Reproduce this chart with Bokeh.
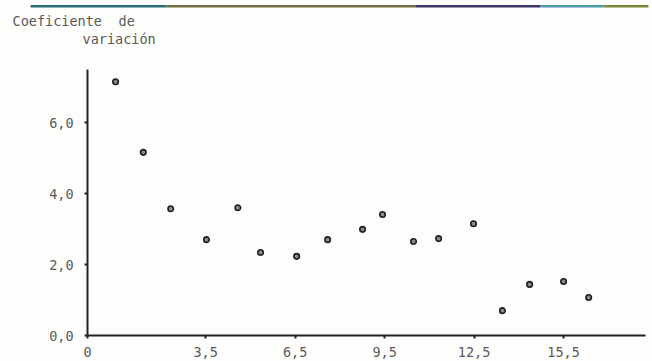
from bokeh.plotting import figure
from bokeh.models import Range1d, FixedTicker, Label, BoxAnnotation
from bokeh.embed import file_html
from bokeh.resources import INLINE

# ---- data ----
ages = [0.48, 1.41, 2.33, 3.53, 4.58, 5.34, 6.55, 7.59, 8.76, 9.43,
        10.47, 11.31, 12.48, 13.45, 14.36, 15.5, 16.34]
coef_var = [7.15, 5.16, 3.57, 2.70, 3.60, 2.34, 2.23, 2.70, 2.99, 3.41,
            2.65, 2.73, 3.15, 0.70, 1.44, 1.52, 1.07]

x_origin = -0.46
x_end = 18.25
y_top = 7.49
x_ticks = [3.5, 6.5, 9.5, 12.5, 15.5]
x_tick_labels = ["3,5", "6,5", "9,5", "12,5", "15,5"]
x_origin_label = "0"
y_ticks = [0, 2, 4, 6]
y_tick_labels = ["0,0", "2,0", "4,0", "6,0"]
title_line1 = ["Coeficiente", "de"]
title_line2 = "variación"

FONT = "DejaVu Sans Mono"
FS = "13.5px"
TXT = "#5a5a5a"
AX = "#222222"
W, H = 652, 361

p = figure(width=W, height=H, output_backend="svg", toolbar_location=None,
           title_location=None,
           x_range=Range1d(-3.377, 18.48), y_range=Range1d(-0.732, 9.437),
           min_border=0, min_border_left=0, min_border_right=0,
           min_border_top=0, min_border_bottom=0,
           background_fill_color="#fdfdfb", border_fill_color="#fdfdfb")
p.grid.visible = False
p.outline_line_color = None

p.scatter(ages, coef_var, marker="circle", size=5.5, fill_color="#8a8a8a",
          line_color="#1e1e1e", line_width=1.6)

for ax in (p.xaxis, p.yaxis):
    ax.axis_line_width = 2
    ax.axis_line_color = AX
    ax.major_tick_in = 0
    ax.major_tick_out = 3
    ax.major_tick_line_width = 2
    ax.major_tick_line_color = AX
    ax.minor_tick_line_color = None
    ax.major_label_text_font = FONT
    ax.major_label_text_font_size = FS
    ax.major_label_text_color = TXT

p.xaxis.fixed_location = 0
p.xaxis.bounds = (x_origin, x_end)
p.xaxis.ticker = FixedTicker(ticks=[x_origin] + x_ticks)
ov = {x_origin: x_origin_label}
ov.update({t: l for t, l in zip(x_ticks, x_tick_labels)})
p.xaxis.major_label_overrides = ov
p.xaxis.major_label_standoff = 8

p.yaxis.fixed_location = x_origin
p.yaxis.bounds = (0, y_top)
p.yaxis.ticker = FixedTicker(ticks=y_ticks)
p.yaxis.major_label_overrides = {t: l for t, l in zip(y_ticks, y_tick_labels)}
p.yaxis.major_label_standoff = 11

# title texts (screen units; frame covers the whole canvas)
def add_text(txt, left, top_center):
    p.add_layout(Label(x=left, y=H - top_center, x_units="screen",
                       y_units="screen", text=txt, text_font=FONT,
                       text_font_size=FS, text_color=TXT,
                       text_baseline="middle"))

add_text(title_line1[0], 12, 20)
add_text(title_line1[1], 118, 20)
add_text(title_line2, 82, 38)

# coloured rule at the top (scan artefact)
segs = [(30, 166, "#2b6d78"), (166, 415, "#6f6f40"), (415, 540, "#3a3768"),
        (540, 603, "#4a9aa8"), (603, 648, "#7a8638")]
for l, r, c in segs:
    p.add_layout(BoxAnnotation(left=l, right=r, bottom=H - 7, top=H - 4.5,
                               left_units="screen", right_units="screen",
                               bottom_units="screen", top_units="screen",
                               fill_color=c, fill_alpha=1, line_color=None))

open("out.html", "w").write(file_html(p, INLINE))
